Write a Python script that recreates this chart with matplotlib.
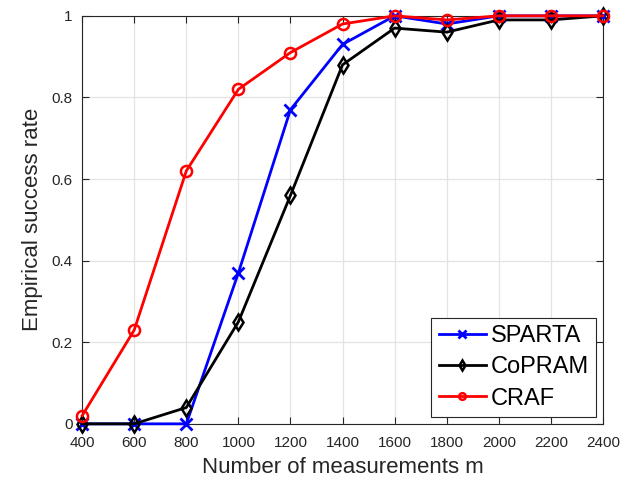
import matplotlib.pyplot as plt

plt.rcParams['font.family'] = ['Liberation Sans', 'DejaVu Sans']

# 측정 수
m_values = [400, 600, 800, 1000, 1200, 1400, 1600, 1800, 2000, 2200, 2400]

# 방법별 성공률
sparta = [0, 0, 0, 0.37, 0.77, 0.93, 1.0, 0.98, 1.0, 1.0, 1.0]
copram = [0, 0, 0.04, 0.25, 0.56, 0.88, 0.97, 0.96, 0.99, 0.99, 1.0]
craf = [0.02, 0.23, 0.62, 0.82, 0.91, 0.98, 1.0, 0.99, 1.0, 1.0, 1.0]

fig = plt.figure(figsize=(6.32, 4.8), dpi=100)
ax = fig.add_axes([0.130, 0.117, 0.824, 0.850])

ax.plot(m_values, sparta, color='blue', marker='x', markersize=9, markeredgewidth=2,
        linewidth=2, label='SPARTA', clip_on=False, zorder=3)
ax.plot(m_values, copram, color='black', marker='d', markersize=8, markeredgewidth=1.8,
        markerfacecolor='none', linewidth=2, label='CoPRAM', clip_on=False, zorder=4)
ax.plot(m_values, craf, color='red', marker='o', markersize=8, markeredgewidth=1.8,
        markerfacecolor='none', linewidth=2, label='CRAF', clip_on=False, zorder=5)

ax.set_xlim(400, 2400)
ax.set_ylim(0, 1)
ax.set_xticks(m_values)
ax.set_yticks([0, 0.2, 0.4, 0.6, 0.8, 1])
ax.set_yticklabels(['0', '0.2', '0.4', '0.6', '0.8', '1'])
ax.tick_params(direction='in', top=True, right=True, labelsize=11, colors='#262626', length=5)
ax.tick_params(axis='x', pad=9)
ax.tick_params(axis='y', pad=7)
for s in ax.spines.values():
    s.set_color('#262626')
    s.set_linewidth(0.8)

ax.grid(True, color='#e3e3e3', linewidth=0.9)
ax.set_axisbelow(True)

ax.set_xlabel('Number of measurements m', fontsize=16, color='#262626', labelpad=5)
ax.set_ylabel('Empirical success rate', fontsize=16, color='#262626', labelpad=6)

leg = ax.legend(loc='lower right', fontsize=17, fancybox=False, framealpha=1,
                edgecolor='#262626', handlelength=2.0, borderpad=0.3, labelspacing=0.4,
                handletextpad=0.2, borderaxespad=0.3, markerscale=0.6)
leg.get_frame().set_linewidth(0.8)

fig.savefig('out.png', dpi=100)
